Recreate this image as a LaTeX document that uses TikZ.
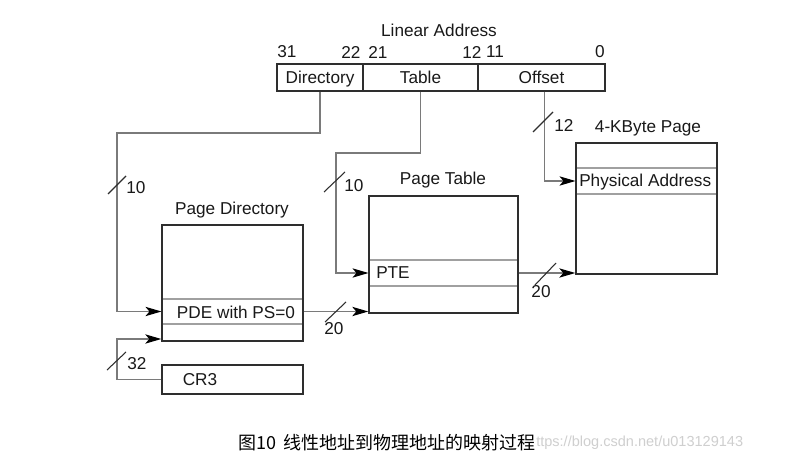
\documentclass[tikz,border=0pt]{standalone}
\usepackage{fontspec}
\setmainfont{Liberation Sans}
\newfontfamily\cjk{Noto Sans CJK SC}
\usetikzlibrary{arrows.meta,fit,calc}
\definecolor{boxc}{HTML}{2E2E2E}
\definecolor{connc}{HTML}{7A7A7A}
\definecolor{rowc}{HTML}{A0A0A0}
\definecolor{wmc}{HTML}{CFCFCF}
\tikzset{
  lbl/.style={inner sep=0pt, font=\fontsize{12.9}{15}\selectfont, text=black!90},
  outer/.style={draw=boxc, line width=1.1pt, inner sep=0pt, fill=none},
  rowbox/.style={draw=rowc, line width=0.8pt, inner sep=0pt},
  conn/.style={draw=connc, line width=0.9pt},
  arr/.style={conn, -{Stealth[length=12pt,width=7pt,inset=3pt,color=black]}},
  slash/.style={draw=boxc, line width=0.8pt},
}
\begin{document}
\begin{tikzpicture}[x=0.75pt,y=-0.75pt]
\useasboundingbox[fill=white] (0,0) rectangle (801,460);

% Linear address
\node[lbl] (latitle) at (439,30) {Linear Address};
\node[lbl] (b31) at (287,52) {31};
\node[lbl] (b22) at (351,52) {22};
\node[lbl] (b21) at (378,52) {21};
\node[lbl] (b12) at (472,52) {12};
\node[lbl] (b11) at (495,52) {11};
\node[lbl] (b0) at (600,52) {0};
\node[outer, fit={(277,64)(363,91)}] (dir) {};
\node[outer, fit={(363,64)(478,91)}] (tab) {};
\node[outer, fit={(478,64)(605,91)}] (off) {};
\node[lbl, anchor=base] (dirt) at ([yshift=-4.7pt]dir.center) {Directory};
\node[lbl, anchor=base] (tabt) at ([yshift=-4.7pt]tab.center) {Table};
\node[lbl, anchor=base] (offt) at ([yshift=-4.7pt]off.center) {Offset};

% Page Directory
\node[lbl] (pdtitle) at (232,210) {Page Directory};
\node[rowbox, fit={(162,299)(303,324)}] (pde) {};
\node[outer, fit={(162,225)(303,341)}] (pd) {};
\node[lbl] (pdet) at (236,312) {PDE with PS=0};

% CR3
\node[outer, fit={(162,365)(303,394)}] (cr3) {};
\node[lbl] (cr3t) at (200,380) {CR3};

% Page Table
\node[lbl] (pttitle) at (443,180) {Page Table};
\node[rowbox, fit={(369,260)(518,286)}] (pte) {};
\node[outer, fit={(369,196)(518,313)}] (pt) {};
\node[lbl, anchor=west] (ptet) at (376,273) {PTE};

% 4-KByte Page
\node[lbl] (pgtitle) at (648,128) {4-KByte Page};
\node[rowbox, fit={(576,168)(717,194)}] (phys) {};
\node[outer, fit={(576,143)(717,274)}] (pg) {};
\node[lbl, anchor=west] (physt) at (579,182) {Physical Address};

% connectors
\coordinate (c1) at (117,133);
\coordinate (c2) at (336,153);
\coordinate (c3) at (117,339);
\draw[arr] (dir.south) |- (c1) |- (pde.west);
\draw[arr] (tab.south) |- (c2) |- (pte.west);
\draw[arr] ([xshift=2.5]off.south) |- (phys.west);
\draw[arr] (pde.east) -- (pde.east -| pt.west);
\draw[arr] (pte.east) -- (pte.east -| pg.west);
\draw[arr] (cr3.west) -| (c3) -- (c3 -| pd.west);

% slashes and widths
\draw[slash] (108,194) -- (126,176);
\node[lbl] (w1) at (136,188) {10};
\draw[slash] (324,192) -- (345,172);
\node[lbl] (w2) at (354,186) {10};
\draw[slash] (533,132) -- (553,112);
\node[lbl] (w3) at (564,125) {12};
\draw[slash] (325,322) -- (346,302);
\node[lbl] (w4) at (334,329) {20};
\draw[slash] (535,285) -- (556,263);
\node[lbl] (w5) at (541,292) {20};
\draw[slash] (107,370) -- (126,352);
\node[lbl] (w6) at (137,364) {32};

% caption
\node[inner sep=0pt, anchor=west, text=wmc, font=\fontsize{10.9}{13}\selectfont] (wm) at (536,443) {ttps://blog.csdn.net/u013129143};
\node[inner sep=0pt, anchor=west, font=\cjk\fontsize{13.5}{16}\selectfont] (cap1) at (238,443) {图10};
\node[inner sep=0pt, anchor=west, font=\cjk\fontsize{13.5}{16}\selectfont] (cap2) at (283,443) {线性地址到物理地址的映射过程};
\end{tikzpicture}
\end{document}
